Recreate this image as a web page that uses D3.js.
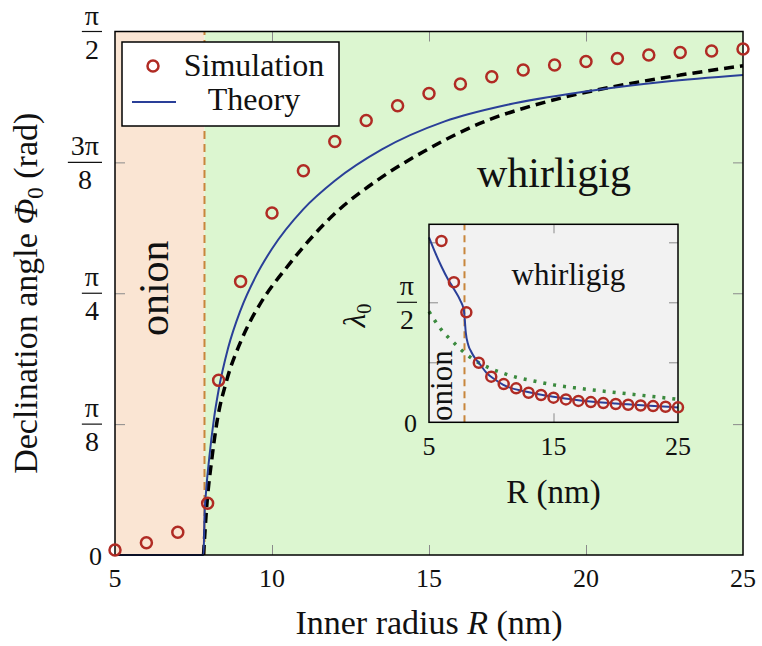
<!DOCTYPE html>
<html lang="en">
<head>
<meta charset="UTF-8">
<title>Declination angle vs inner radius</title>
<style>
  body { margin: 0; background: #fff; }
  svg text { font-family: 'Liberation Serif', 'Times New Roman', serif; fill: #111; }
</style>
<script src="https://d3js.org/d3.v7.min.js"></script>
</head>
<body>
<svg width="762" height="646"></svg>
<script>
const PI = Math.PI;

// main panel - simulation points
const simR   = [5, 6, 7, 7.95, 8.3, 9, 10, 11, 12, 13, 14, 15, 16, 17, 18, 19, 20, 21, 22, 23, 24, 25];
const simPhi = [0.015, 0.037, 0.068, 0.155, 0.524, 0.821, 1.026, 1.153, 1.241, 1.304, 1.348, 1.385,
                1.413, 1.435, 1.455, 1.470, 1.481, 1.490, 1.500, 1.508, 1.512, 1.518];
// theory (solid blue)
const theoryR   = [5, 7.82, 7.85, 7.9, 8.0, 8.15, 8.3, 8.6, 9.0, 9.5, 10, 11, 12, 13.5, 15.5, 17.5, 20, 22.5, 25];
const theoryPhi = [0, 0, 0.116, 0.19, 0.29, 0.408, 0.495, 0.62, 0.735, 0.839, 0.919, 1.038, 1.123, 1.217, 1.301, 1.351, 1.391, 1.42, 1.44];
// approximation (black dashed)
const approxR   = [7.82, 7.92, 8.08, 8.24, 8.56, 8.98, 9.3, 9.6, 10.57, 11.95, 13.44, 14.82, 16.62, 18.75, 20.86, 23, 25];
const approxPhi = [0, 0.145, 0.285, 0.395, 0.525, 0.635, 0.70, 0.75, 0.875, 1.02, 1.13, 1.21, 1.295, 1.36, 1.405, 1.44, 1.468];

// inset - lambda_0
const inSimR   = [6, 7, 8, 9, 10, 11, 12, 13, 14, 15, 16, 17, 18, 19, 20, 21, 22, 23, 24, 25];
const inSimLam = [2.373, 1.833, 1.44, 0.78, 0.597, 0.50, 0.445, 0.387, 0.357, 0.322, 0.30, 0.28, 0.265,
                  0.252, 0.24, 0.23, 0.22, 0.212, 0.204, 0.196];
const inTheoryR   = [5, 5.5, 6, 6.5, 7, 7.5, 7.8, 7.87, 7.95, 8.16, 8.4, 8.69, 9.04, 9.63, 10.3, 10.97, 12.85, 14.98, 17, 20, 25];
const inTheoryLam = [2.42, 2.22, 2.04, 1.88, 1.745, 1.60, 1.47, 1.35, 1.18, 1.01, 0.92, 0.84, 0.77, 0.645, 0.56, 0.49, 0.40, 0.335, 0.29, 0.245, 0.195];
const inDotR   = [5, 6, 7, 8, 9, 10, 11, 12, 13, 15, 17, 20, 22, 25];
const inDotLam = [1.45, 1.21, 1.04, 0.89, 0.78, 0.70, 0.64, 0.59, 0.555, 0.49, 0.445, 0.39, 0.355, 0.30];

const transitionR = 7.85;

// ticks
const xTicks = [5, 10, 15, 20, 25];
const yTicks = [0, PI / 8, PI / 4, 3 * PI / 8, PI / 2];
const yTickLabels = [["0"], ["π", "8"], ["π", "4"], ["3π", "8"], ["π", "2"]];
const inXTicks = [5, 15, 25];
const inYTicks = [0, PI / 4, PI / 2, 3 * PI / 4];
const inYTickLabels = [["0"], null, ["π", "2"], null];

const zip = (a, b) => a.map((v, i) => [v, b[i]]);

const svg = d3.select("svg");

// ---------- main panel ----------
const x = d3.scaleLinear().domain([5, 25]).range([115, 743]);
const y = d3.scaleLinear().domain([0, PI / 2]).range([555, 31.5]);

svg.append("rect").attr("x", x(5)).attr("y", y(PI / 2))
    .attr("width", x(transitionR) - x(5)).attr("height", y(0) - y(PI / 2))
    .attr("fill", "#fae5d3");
svg.append("rect").attr("x", x(transitionR)).attr("y", y(PI / 2))
    .attr("width", x(25) - x(transitionR)).attr("height", y(0) - y(PI / 2))
    .attr("fill", "#dcf6d0");

// inward ticks
function ticksX(sx, sy, vals, y0, y1, len) {
    svg.append("g").attr("transform", `translate(0,${sy(y0)})`)
        .call(d3.axisBottom(sx).tickValues(vals).tickSize(-len).tickFormat(""))
        .call(g => g.select(".domain").remove());
    svg.append("g").attr("transform", `translate(0,${sy(y1)})`)
        .call(d3.axisTop(sx).tickValues(vals).tickSize(-len).tickFormat(""))
        .call(g => g.select(".domain").remove());
}
function ticksY(sx, sy, vals, x0, x1, len) {
    svg.append("g").attr("transform", `translate(${sx(x0)},0)`)
        .call(d3.axisLeft(sy).tickValues(vals).tickSize(-len).tickFormat(""))
        .call(g => g.select(".domain").remove());
    svg.append("g").attr("transform", `translate(${sx(x1)},0)`)
        .call(d3.axisRight(sy).tickValues(vals).tickSize(-len).tickFormat(""))
        .call(g => g.select(".domain").remove());
}
ticksX(x, y, xTicks.slice(1, -1), 0, PI / 2, 10);
ticksY(x, y, yTicks.slice(1, -1), 5, 25, 10);
svg.selectAll(".tick line").attr("stroke", "#8a8a8a").attr("stroke-width", 1);

// transition line
svg.append("line")
    .attr("x1", x(transitionR)).attr("x2", x(transitionR))
    .attr("y1", y(0)).attr("y2", y(PI / 2))
    .attr("stroke", "#c8863c").attr("stroke-width", 2).attr("stroke-dasharray", "8,5");

const line = d3.line().x(d => x(d[0])).y(d => y(d[1])).curve(d3.curveMonotoneX);

svg.append("path").datum(zip(approxR, approxPhi))
    .attr("d", line).attr("fill", "none")
    .attr("stroke", "#000").attr("stroke-width", 3.5).attr("stroke-dasharray", "10,6");
svg.append("path").datum(zip(theoryR, theoryPhi))
    .attr("d", line).attr("fill", "none")
    .attr("stroke", "#2a3f98").attr("stroke-width", 2);

// frame
svg.append("rect").attr("x", x(5)).attr("y", y(PI / 2))
    .attr("width", x(25) - x(5)).attr("height", y(0) - y(PI / 2))
    .attr("fill", "none").attr("stroke", "#000").attr("stroke-width", 1.5);

svg.append("g").selectAll("circle")
    .data(zip(simR, simPhi))
    .enter().append("circle")
    .attr("cx", d => x(d[0])).attr("cy", d => y(d[1])).attr("r", 5.5)
    .attr("fill", "none").attr("stroke", "#b02b24").attr("stroke-width", 2.5);

// region names
svg.append("text")
    .attr("transform", `translate(${x(6.7)},${y(PI / 4) - 5}) rotate(-90)`)
    .attr("text-anchor", "middle").style("font-size", "42px").text("onion");
svg.append("text")
    .attr("x", x(18.98)).attr("y", 187)
    .attr("text-anchor", "middle").style("font-size", "42px").text("whirligig");

// tick labels
svg.append("g").selectAll("text")
    .data(xTicks).enter().append("text")
    .attr("x", d => x(d)).attr("y", 587)
    .attr("text-anchor", "middle").style("font-size", "26px")
    .text(d => d);

function fracLabel(g, right, cy, parts, size) {
    if (parts.length === 1) {
        g.append("text").attr("x", right).attr("y", cy + 10)
            .attr("text-anchor", "end").style("font-size", "26px").text(parts[0]);
        return;
    }
    const num = g.append("text").attr("y", cy - 7)
        .attr("text-anchor", "middle").style("font-size", size + "px").text(parts[0]);
    const w = num.node().getComputedTextLength() + 6;
    const cx = right - w / 2;
    num.attr("x", cx);
    g.append("text").attr("x", cx).attr("y", cy + 27)
        .attr("text-anchor", "middle").style("font-size", size + "px").text(parts[1]);
    g.append("line").attr("x1", right - w).attr("x2", right)
        .attr("y1", cy).attr("y2", cy).attr("stroke", "#111").attr("stroke-width", 1.2);
}
const yLab = svg.append("g");
yTicks.forEach((v, i) => fracLabel(yLab, 102, y(v), yTickLabels[i], 28));

// axis titles
const xTitle = svg.append("text")
    .attr("x", (x(5) + x(25)) / 2).attr("y", 634)
    .attr("text-anchor", "middle").style("font-size", "34px");
xTitle.append("tspan").text("Inner radius ");
xTitle.append("tspan").style("font-style", "italic").text("R");
xTitle.append("tspan").text(" (nm)");

const yTitle = svg.append("text")
    .attr("transform", `translate(37,${(y(0) + y(PI / 2)) / 2}) rotate(-90)`)
    .attr("text-anchor", "middle").style("font-size", "34px");
yTitle.append("tspan").text("Declination angle ");
yTitle.append("tspan").style("font-style", "italic").text("Φ");
yTitle.append("tspan").style("font-size", "23px").attr("dy", 6).text("0");
yTitle.append("tspan").attr("dy", -6).text(" (rad)");

// legend
const leg = svg.append("g");
leg.append("rect").attr("x", 122).attr("y", 42).attr("width", 217).attr("height", 84)
    .attr("fill", "#fff").attr("stroke", "#000").attr("stroke-width", 1.5);
leg.append("circle").attr("cx", 153).attr("cy", 66).attr("r", 5.5)
    .attr("fill", "none").attr("stroke", "#b02b24").attr("stroke-width", 2.5);
leg.append("text").attr("x", 254).attr("y", 76).attr("text-anchor", "middle")
    .style("font-size", "32px").text("Simulation");
leg.append("line").attr("x1", 132).attr("x2", 176).attr("y1", 102).attr("y2", 102)
    .attr("stroke", "#2a3f98").attr("stroke-width", 2);
leg.append("text").attr("x", 254).attr("y", 110).attr("text-anchor", "middle")
    .style("font-size", "32px").text("Theory");

// ---------- inset ----------
const ix = d3.scaleLinear().domain([5, 25]).range([429, 678]);
const iy = d3.scaleLinear().domain([0, 2.592]).range([422.3, 224.3]);

svg.append("rect").attr("x", ix(5)).attr("y", iy(2.592))
    .attr("width", ix(25) - ix(5)).attr("height", iy(0) - iy(2.592))
    .attr("fill", "#f2f2f2");

const tickStart = svg.selectAll(".tick").size();
ticksX(ix, iy, [15], 0, 2.592, 9);
ticksY(ix, iy, inYTicks.slice(1), 5, 25, 9);
svg.selectAll(".tick").filter((d, i) => i >= tickStart).select("line")
    .attr("stroke", "#8a8a8a").attr("stroke-width", 1);

svg.append("line")
    .attr("x1", ix(transitionR)).attr("x2", ix(transitionR))
    .attr("y1", iy(0)).attr("y2", iy(2.592))
    .attr("stroke", "#c8863c").attr("stroke-width", 2).attr("stroke-dasharray", "7,5");

const iline = d3.line().x(d => ix(d[0])).y(d => iy(d[1])).curve(d3.curveMonotoneX);
svg.append("path").datum(zip(inDotR, inDotLam))
    .attr("d", iline).attr("fill", "none")
    .attr("stroke", "#3b8a3e").attr("stroke-width", 3.5).attr("stroke-dasharray", "3,7");
svg.append("path").datum(zip(inTheoryR, inTheoryLam))
    .attr("d", iline).attr("fill", "none")
    .attr("stroke", "#2a3f98").attr("stroke-width", 2);

svg.append("text")
    .attr("transform", `translate(${ix(6.85)},${iy(0.48)}) rotate(-90)`)
    .attr("text-anchor", "middle").style("font-size", "31px").text("onion");
svg.append("text")
    .attr("x", ix(16.2)).attr("y", 285)
    .attr("text-anchor", "middle").style("font-size", "31px").text("whirligig");

svg.append("rect").attr("x", ix(5)).attr("y", iy(2.592))
    .attr("width", ix(25) - ix(5)).attr("height", iy(0) - iy(2.592))
    .attr("fill", "none").attr("stroke", "#000").attr("stroke-width", 1.5);

svg.append("g").selectAll("circle")
    .data(zip(inSimR, inSimLam))
    .enter().append("circle")
    .attr("cx", d => ix(d[0])).attr("cy", d => iy(d[1])).attr("r", 5)
    .attr("fill", "none").attr("stroke", "#b02b24").attr("stroke-width", 2.5);

svg.append("g").selectAll("text")
    .data(inXTicks).enter().append("text")
    .attr("x", d => ix(d)).attr("y", 455)
    .attr("text-anchor", "middle").style("font-size", "26px")
    .text(d => d);
const iyLab = svg.append("g");
inYTicks.forEach((v, i) => {
    if (inYTickLabels[i]) fracLabel(iyLab, 417, iy(v), inYTickLabels[i], 28);
});

svg.append("text")
    .attr("x", (ix(5) + ix(25)) / 2).attr("y", 503)
    .attr("text-anchor", "middle").style("font-size", "33px").text("R (nm)");

const lam = svg.append("text")
    .attr("transform", `translate(365,${iy(1.4)}) rotate(-90)`)
    .attr("text-anchor", "middle").style("font-size", "31px");
lam.append("tspan").style("font-style", "italic").text("λ");
lam.append("tspan").style("font-size", "21px").attr("dy", 6).text("0");
</script>
</body>
</html>
